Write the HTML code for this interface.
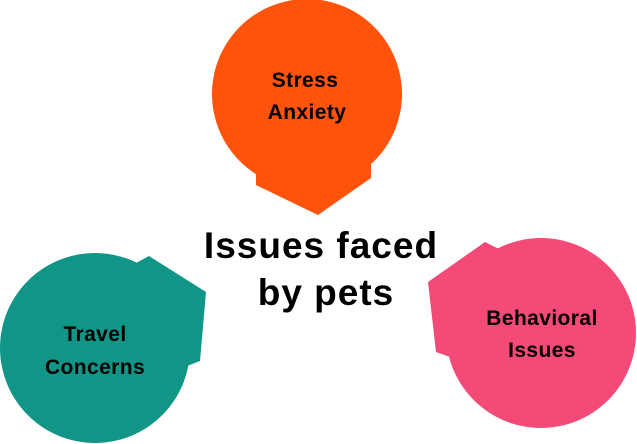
<!DOCTYPE html>
<html><head><style>
html,body{margin:0;padding:0;background:#fff;}
svg{display:block;}
text{font-family:"Liberation Sans",sans-serif;font-weight:bold;fill:#000;}
</style></head><body>
<svg width="637" height="444" viewBox="0 0 637 444">
<circle cx="307" cy="94" r="95" fill="#fd530b"/>
<polygon points="256,150 256,185 318,215 371,178 371,150" fill="#fd530b"/>
<circle cx="95" cy="348" r="95" fill="#109587"/>
<polygon points="120,268 136,263 149,256 206,292 200,361 187,366 150,380" fill="#109587"/>
<circle cx="541" cy="333" r="95" fill="#f44a77"/>
<polygon points="520,250 497,248 485,242 428,282 436,352 450,357 480,370" fill="#f44a77"/>
<g font-size="21" letter-spacing="0.4" text-anchor="middle">
<text x="305" y="87">Stress</text>
<text x="307" y="119">Anxiety</text>
<text x="95" y="341">Travel</text>
<text x="95" y="374">Concerns</text>
<text x="542" y="325">Behavioral</text>
<text x="542" y="357">Issues</text>
</g>
<g font-size="37" letter-spacing="1" text-anchor="middle">
<text x="321" y="258">Issues faced</text>
<text x="326" y="305">by pets</text>
</g>
</svg>
</body></html>
